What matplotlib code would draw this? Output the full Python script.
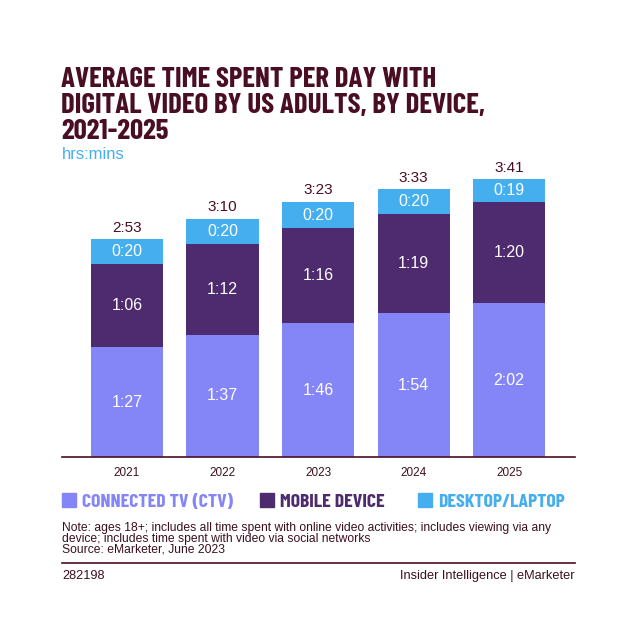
import matplotlib
matplotlib.use("Agg")
import matplotlib.pyplot as plt
from matplotlib.patches import Rectangle

years = ["2021", "2022", "2023", "2024", "2025"]
ctv = [87, 97, 106, 114, 122]        # minutes per day
mobile = [66, 72, 76, 79, 80]
desktop = [20, 20, 20, 20, 19]
totals = [173, 190, 203, 213, 221]

C_CTV = "#8486F8"
C_MOB = "#4E2A6E"
C_DESK = "#45AEEF"
C_TITLE = "#4A0E22"
C_TEXT = "#3A1020"
COND = ["Barlow Condensed", "Roboto Condensed", "DejaVu Sans"]
SANS = ["Liberation Sans", "DejaVu Sans"]
plt.rcParams["font.family"] = SANS


def hm(m):
    return "%d:%02d" % (m // 60, m % 60)


W, H = 639, 639
fig = plt.figure(figsize=(W / 100, H / 100), dpi=100)
fig.patch.set_facecolor("white")


def fx(px):
    return px / W


def fy(py):
    return 1 - py / H


ax = fig.add_axes([fx(62), fy(457), (575 - 62) / W, (457 - 160) / H])
x = list(range(len(years)))
bw = 0.754
bot2 = [a + b for a, b in zip(ctv, mobile)]
ax.bar(x, ctv, bw, color=C_CTV)
ax.bar(x, mobile, bw, bottom=ctv, color=C_MOB)
ax.bar(x, desktop, bw, bottom=bot2, color=C_DESK)

for i in x:
    ax.text(i, ctv[i] / 2, hm(ctv[i]), ha="center", va="center", color="white", fontsize=11.5)
    ax.text(i, ctv[i] + mobile[i] / 2, hm(mobile[i]), ha="center", va="center", color="white", fontsize=11.5)
    ax.text(i, bot2[i] + desktop[i] / 2, hm(desktop[i]), ha="center", va="center", color="white", fontsize=11.5)
    ax.text(i, totals[i] + 3, hm(totals[i]), ha="center", va="bottom", color=C_TITLE, fontsize=11)

ax.set_xlim(-0.68, 4.69)
ax.set_ylim(0, (457 - 160) / 1.26)
ax.set_xticks(x)
ax.set_xticklabels(years, fontsize=8.5, color=C_TEXT)
ax.tick_params(axis="x", length=0, pad=7)
ax.set_yticks([])
for s in ["top", "right", "left"]:
    ax.spines[s].set_visible(False)
ax.spines["bottom"].set_color(C_TITLE)
ax.spines["bottom"].set_linewidth(1.2)

# title, one line at a time
title_lines = ["AVERAGE TIME SPENT PER DAY WITH",
               "DIGITAL VIDEO BY US ADULTS, BY DEVICE,",
               "2021-2025"]
for k, line in enumerate(title_lines):
    fig.text(fx(61), fy(87 + 26 * k), line, ha="left", va="baseline", fontsize=20.9,
             fontweight="bold", color=C_TITLE, family=COND)
fig.text(fx(62), fy(155), "hrs:mins", ha="left", va="center", fontsize=12, color=C_DESK)

# legend
items = [(62, "CONNECTED TV (CTV)", C_CTV), (260, "MOBILE DEVICE", C_MOB), (418, "DESKTOP/LAPTOP", C_DESK)]
for px, lab, col in items:
    fig.patches.append(Rectangle((fx(px), fy(507)), 14 / W, 14 / H,
                                 transform=fig.transFigure, color=col))
    fig.text(fx(px + 20), fy(507), lab, ha="left", va="baseline", fontsize=14.2,
             fontweight="bold", color=col, family=COND)

notes = ["Note: ages 18+; includes all time spent with online video activities; includes viewing via any",
         "device; includes time spent with video via social networks",
         "Source: eMarketer, June 2023"]
for k, line in enumerate(notes):
    fig.text(fx(62), fy(528 + 11 * k), line, ha="left", va="center", fontsize=8.75, color=C_TEXT)

fig.add_artist(plt.Line2D([fx(62), fx(575)], [fy(563), fy(563)], color=C_TITLE, lw=1.2))
fig.text(fx(62), fy(576), "282198", ha="left", va="center", fontsize=9.2, color=C_TEXT)
fig.text(fx(575), fy(576), "Insider Intelligence | eMarketer", ha="right", va="center",
         fontsize=9.2, color=C_TEXT)

fig.savefig("out.png", dpi=100)
